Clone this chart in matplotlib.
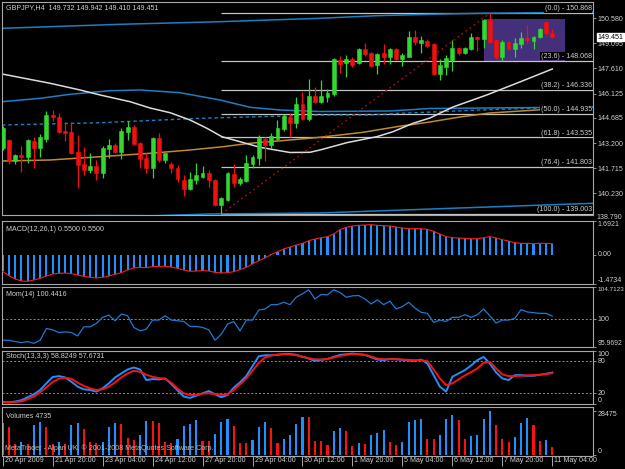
import matplotlib
matplotlib.use('Agg')
import matplotlib.pyplot as plt
import matplotlib.transforms as mtransforms
from matplotlib.patches import Rectangle

plt.rcParams['font.family'] = ['Liberation Sans', 'DejaVu Sans']

# ---------------- data ----------------
date_labels = ['20 Apr 2009', '21 Apr 20:00', '23 Apr 04:00', '24 Apr 12:00', '27 Apr 20:00',
               '29 Apr 04:00', '30 Apr 12:00', '1 May 20:00', '5 May 04:00', '6 May 12:00',
               '7 May 20:00', '11 May 04:00']
date_bars = [0, 8, 16, 24, 32, 40, 48, 56, 64, 72, 80, 88]

opens = [142.907, 143.380, 142.139, 142.493, 142.375, 143.321, 142.907, 143.439, 144.857, 144.739,
         143.912, 143.853, 142.671, 141.962, 141.607, 141.843, 141.430, 142.848, 143.084, 142.671,
         143.853, 144.148, 143.203, 142.316, 141.725, 143.498, 142.198, 141.962, 141.725, 141.016,
         140.484, 141.016, 141.193, 141.430, 141.016, 139.538, 139.834, 141.371, 140.839, 140.957,
         141.962, 142.316, 143.439, 143.084, 143.439, 144.030, 144.739, 144.385, 145.508, 144.621,
         145.980, 145.626, 145.921, 146.099, 148.108, 147.931, 148.167, 147.931, 148.758, 148.522,
         147.812, 148.522, 148.285, 148.758, 148.167, 148.285, 149.467, 149.113, 149.231, 149.054,
         147.281, 147.694, 148.108, 148.817, 148.522, 148.758, 149.467, 149.349, 150.472, 149.290,
         148.285, 149.172, 148.758, 149.054, 149.408, 149.231, 149.467, 150.354, 149.732]
highs = [144.207, 143.439, 142.553, 143.025, 143.439, 143.557, 143.735, 145.094, 145.153, 144.976,
         144.444, 144.444, 143.675, 142.966, 142.612, 142.198, 143.025, 143.439, 143.203, 144.089,
         144.503, 144.266, 143.262, 142.612, 143.557, 143.794, 142.612, 142.080, 141.902, 141.311,
         141.489, 142.021, 141.843, 141.607, 141.075, 140.011, 141.489, 141.962, 141.193, 142.493,
         142.493, 143.675, 143.557, 143.794, 144.562, 144.917, 144.976, 145.921, 146.217, 146.985,
         146.512, 146.926, 146.394, 148.226, 148.344, 148.403, 148.285, 148.817, 149.113, 148.581,
         148.522, 149.054, 148.817, 148.817, 148.522, 149.822, 149.881, 149.526, 149.349, 149.113,
         148.167, 148.403, 149.290, 148.876, 148.876, 149.704, 149.526, 150.531, 150.868, 149.349,
         149.290, 149.231, 149.408, 149.763, 150.177, 149.526, 150.000, 150.413, 149.942]
lows = [142.789, 141.962, 141.962, 141.489, 142.021, 141.725, 142.375, 143.262, 144.503, 143.794,
        143.321, 142.553, 140.543, 141.311, 141.430, 141.016, 141.134, 142.316, 142.612, 142.257,
        143.380, 143.084, 141.725, 141.430, 141.134, 142.080, 142.021, 141.430, 140.898, 140.070,
        140.425, 140.780, 141.134, 140.602, 139.479, 139.003, 139.775, 140.602, 140.720, 140.898,
        141.725, 141.902, 142.139, 142.907, 143.380, 143.912, 143.557, 144.089, 144.562, 144.503,
        145.567, 145.567, 145.626, 145.980, 147.340, 147.103, 147.694, 147.872, 148.344, 147.694,
        147.281, 147.872, 147.872, 148.108, 147.753, 148.285, 148.994, 148.522, 148.876, 147.221,
        146.926, 147.221, 147.458, 148.403, 148.463, 148.699, 148.640, 148.817, 149.113, 148.167,
        148.049, 148.699, 148.285, 148.817, 149.113, 148.758, 149.408, 149.586, 149.410]
closes = [144.089, 142.198, 142.493, 142.375, 143.380, 142.907, 143.557, 144.857, 144.739, 143.853,
          143.794, 142.612, 141.902, 141.607, 141.843, 141.430, 142.907, 143.084, 142.671, 143.912,
          144.148, 143.144, 142.257, 141.725, 143.498, 142.198, 142.612, 141.725, 141.075, 140.484,
          141.075, 141.311, 141.430, 141.016, 139.538, 139.952, 141.430, 140.839, 141.075, 142.021,
          142.375, 143.498, 143.084, 143.616, 144.089, 144.798, 144.385, 145.508, 144.621, 145.980,
          145.626, 145.980, 146.158, 148.167, 147.872, 148.167, 147.812, 148.758, 148.463, 147.753,
          148.463, 148.285, 148.758, 148.167, 148.403, 149.467, 149.172, 149.290, 148.935, 147.281,
          147.812, 148.226, 148.817, 148.522, 148.817, 149.467, 149.349, 150.472, 149.172, 148.285,
          149.172, 148.758, 149.113, 149.408, 149.290, 149.467, 149.940, 149.704, 149.451]

# overlay lines (bar position, price)
band_up_x = [-0.1, 18.8, 34.8, 50.8, 59.9, 68.4, 76.4, 94.5]
band_up_y = [149.981, 150.218, 150.372, 150.573, 150.726, 150.809, 150.868, 150.933]
band_mid_x = [-0.1, 6.0, 10.8, 17.2, 22.0, 28.4, 34.8, 39.6, 44.4, 50.8, 62.0, 68.4, 86.0, 94.5]
band_mid_y = [145.643, 145.844, 146.081, 146.294, 146.335, 146.176, 145.744, 145.313, 145.153,
              145.064, 145.094, 145.242, 145.301, 145.330]
band_dash_x = [-0.1, 15.6, 31.6, 50.8, 58.8, 63.6, 76.4, 86.0, 94.5]
band_dash_y = [144.266, 144.402, 144.662, 144.857, 144.857, 144.958, 145.153, 145.271, 145.301]
band_low_x = [-0.1, 7.3, 15.6, 24.4, 33.2, 50.8, 73.2, 94.5]
band_low_y = [138.830, 138.888, 138.918, 138.906, 139.007, 139.066, 139.361, 139.639]
ma_white_x = [-0.1, 7.6, 12.4, 15.6, 20.4, 23.6, 26.8, 30.0, 32.7, 35.1, 38.0, 41.2, 46.0, 49.2,
              50.8, 55.1, 59.9, 62.5, 65.7, 68.4, 72.1, 77.5, 82.8, 88.0]
ma_white_y = [147.281, 146.731, 146.335, 146.040, 145.643, 145.271, 144.993, 144.562, 144.072,
              143.575, 143.280, 142.949, 142.641, 142.653, 142.789, 143.221, 143.575, 143.871,
              144.367, 144.680, 145.330, 146.040, 146.808, 147.576]
ma_orange_x = [-0.1, 7.6, 15.6, 23.6, 30.0, 35.3, 39.6, 46.0, 50.8, 57.7, 63.1, 68.4, 73.2, 78.0, 88.0]
ma_orange_y = [142.139, 142.198, 142.393, 142.594, 142.789, 142.984, 143.185, 143.380, 143.540,
               143.835, 144.166, 144.444, 144.739, 144.976, 145.212]

fib_ratios = ['0.0', '23.6', '38.2', '50.0', '61.8', '76.4', '100.0']
fib_prices = [150.868, 148.068, 146.336, 144.935, 143.535, 141.803, 139.003]
fib_start_bar = 35
trend_bars = [35, 78]
trend_prices = [139.003, 150.868]
box_bars = [77, 90]
box_prices = [148.068, 150.531]

price_ticks = [150.580, 149.095, 147.610, 146.125, 144.685, 143.200, 141.715, 140.230]
price_bottom_label = 138.790
last_price = 149.451

macd = [-0.838, -1.055, -1.223, -1.323, -1.340, -1.273, -1.189, -1.072, -0.972, -0.938,
        -0.921, -0.955, -1.022, -1.089, -1.139, -1.173, -1.139, -1.072, -0.988, -0.905,
        -0.771, -0.670, -0.637, -0.653, -0.603, -0.586, -0.586, -0.620, -0.687, -0.771,
        -0.838, -0.821, -0.804, -0.821, -0.888, -0.921, -0.905, -0.854, -0.754, -0.637,
        -0.469, -0.302, -0.168, 0.010, 0.151, 0.285, 0.385, 0.486, 0.570, 0.704,
        0.787, 0.854, 0.905, 1.039, 1.256, 1.374, 1.441, 1.474, 1.491, 1.508,
        1.474, 1.457, 1.441, 1.390, 1.340, 1.307, 1.307, 1.307, 1.273, 1.173,
        1.039, 0.905, 0.854, 0.838, 0.821, 0.804, 0.804, 0.854, 0.905, 0.838,
        0.754, 0.687, 0.603, 0.570, 0.570, 0.553, 0.570, 0.570, 0.550]
mom = [96.89, 96.89, 96.69, 96.54, 96.69, 96.44, 96.89, 98.62, 98.42, 98.02,
       98.12, 98.02, 97.53, 98.86, 98.86, 99.36, 100.25, 100.59, 99.75, 100.74,
       100.49, 98.77, 98.27, 98.52, 99.85, 99.85, 100.49, 99.85, 99.75, 99.65,
       98.91, 98.91, 98.77, 98.42, 96.89, 97.78, 99.26, 99.65, 98.27, 99.85,
       99.85, 101.33, 101.48, 102.12, 102.12, 102.47, 102.12, 103.21, 103.71, 104.30,
       102.96, 103.61, 103.56, 104.30, 103.90, 103.21, 103.41, 103.46, 102.96, 102.22,
       102.82, 102.12, 102.62, 101.48, 101.83, 102.47, 101.63, 100.99, 100.84, 99.51,
       99.85, 99.65, 100.25, 100.25, 100.64, 100.25, 100.64, 101.48, 100.49, 99.41,
       99.85, 99.85, 100.10, 101.38, 101.04, 100.94, 100.84, 100.84, 100.4416]
stoch_main = [3.3, 3.3, 4.6, 7.0, 12.6, 18.2, 26.2, 38.6, 50.3, 52.2,
              49.7, 41.7, 32.4, 27.4, 26.2, 23.1, 29.3, 38.6, 49.7, 57.1,
              64.5, 68.2, 64.5, 44.7, 46.6, 46.0, 47.8, 37.3, 25.6, 13.8,
              11.4, 15.7, 20.0, 24.3, 18.2, 12.6, 16.9, 30.5, 40.4, 52.2,
              70.7, 89.3, 91.1, 91.1, 91.8, 93.6, 93.6, 91.8, 88.0, 84.9,
              80.6, 82.5, 84.3, 88.0, 91.8, 93.0, 94.2, 93.0, 91.8, 87.4,
              83.1, 81.9, 84.3, 83.7, 82.5, 81.2, 80.6, 83.1, 75.7, 54.0,
              32.4, 23.1, 50.9, 57.1, 63.3, 72.0, 81.9, 88.0, 75.7, 59.0,
              47.8, 44.7, 54.0, 54.0, 52.8, 52.8, 54.6, 56.5, 58.8249]
stoch_signal = [3.3, 3.3, 3.9, 4.6, 8.9, 13.8, 21.9, 31.1, 41.0, 47.2,
                49.1, 47.2, 39.8, 33.6, 29.3, 26.2, 27.4, 32.4, 40.4, 49.7,
                57.1, 62.1, 60.2, 54.6, 50.9, 48.5, 47.2, 39.8, 28.7, 20.0,
                16.9, 16.9, 19.4, 20.0, 18.8, 16.9, 18.2, 26.2, 36.7, 47.8,
                62.1, 76.9, 86.8, 90.5, 92.4, 93.0, 92.4, 91.1, 88.7, 85.6,
                83.7, 83.1, 84.3, 86.8, 89.9, 91.8, 93.0, 93.0, 91.8, 88.7,
                84.9, 83.7, 83.7, 83.7, 83.1, 82.5, 81.9, 81.9, 80.0, 64.5,
                47.8, 35.5, 38.6, 46.0, 53.4, 59.6, 66.4, 76.9, 78.8, 66.4,
                55.3, 52.2, 52.2, 52.8, 53.4, 54.0, 54.6, 55.9, 57.6731]
volumes = [20285, 17696, 6906, 7985, 6690, 19206, 21148, 18127, 6906, 8200,
           6906, 18990, 20285, 16401, 7985, 7769, 8200, 17696, 20717, 19638,
           10574, 9495, 12732, 22012, 21796, 20285, 8416, 7337, 9927, 18775,
           19638, 22227, 9064, 8632, 13380, 21364, 22875, 18559, 7337, 7337,
           9495, 17696, 21364, 17480, 7337, 10143, 12732, 19638, 24385, 24170,
           8848, 8848, 6258, 15538, 17480, 15322, 5611, 7337, 6906, 12732,
           13811, 15969, 8416, 6042, 8416, 21364, 22443, 22875, 10143, 10143,
           12732, 23091, 25464, 22443, 10143, 12301, 12732, 22875, 28475, 19206,
           9927, 8416, 11222, 20285, 23954, 19206, 8848, 9279, 4735]

# ---------------- style ----------------
BG = 'black'
FG = '#cfcfcf'
FRAME = '#a8a8a8'
FS = 5.1
BULL = '#32d732'
BEAR = '#f01010'
BLUE = '#1e90ff'
BAND = '#1a80c4'
XMIN, XMAX = -0.11, 94.52
n = len(closes)
xs = list(range(n))

fig = plt.figure(figsize=(6.25, 4.69), dpi=100, facecolor=BG)


def make_ax(top_px, bot_px):
    ax = fig.add_axes([2 / 625, 1 - bot_px / 469, 591 / 625, (bot_px - top_px) / 469], facecolor=BG)
    ax.set_xlim(XMIN, XMAX)
    for s in ax.spines.values():
        s.set_color(FRAME)
        s.set_linewidth(0.8)
    ax.yaxis.tick_right()
    ax.tick_params(axis='y', colors=FRAME, labelcolor=FG, labelsize=FS, length=2, width=0.6, pad=1.5)
    ax.tick_params(axis='x', bottom=False, labelbottom=False)
    return ax


ax_p = make_ax(2, 215)
ax_m = make_ax(221, 284)
ax_mo = make_ax(287, 346.5)
ax_s = make_ax(350.5, 404)
ax_v = make_ax(407, 456)

# ---------------- price panel ----------------
ax_p.set_ylim(138.947, 151.536)
ax_p.add_patch(Rectangle((box_bars[0], box_prices[0]), box_bars[1] - box_bars[0],
                         box_prices[1] - box_prices[0], facecolor='#44307a', edgecolor='none', zorder=1))
ax_p.hlines(fib_prices, fib_start_bar, XMAX, colors='#c4c4c4', linewidth=0.9, zorder=2)
ax_p.plot(band_up_x, band_up_y, color=BAND, lw=1.1, zorder=2)
ax_p.plot(band_mid_x, band_mid_y, color=BAND, lw=1.1, zorder=2)
ax_p.plot(band_dash_x, band_dash_y, color=BAND, lw=1.0, ls=(0, (2.5, 2)), zorder=2)
ax_p.plot(band_low_x, band_low_y, color=BAND, lw=1.1, zorder=2)
ax_p.plot(ma_orange_x, ma_orange_y, color='#c08a2a', lw=1.1, zorder=2)
ax_p.plot(ma_white_x, ma_white_y, color='#dcdcdc', lw=1.1, zorder=2)
ax_p.plot(trend_bars, trend_prices, color='#b01515', lw=0.9, ls=(0, (1.5, 2.5)), zorder=2)

for i in xs:
    o, h, l, c = opens[i], highs[i], lows[i], closes[i]
    col = BULL if c >= o else BEAR
    ax_p.vlines(i, l, h, color=col, lw=0.9, zorder=3)
    ax_p.bar(i, abs(c - o), bottom=min(o, c), width=0.62, color=col,
             edgecolor=col, linewidth=0.4, zorder=4)

for r, p in zip(fib_ratios, fib_prices):
    ax_p.text(0.998, p + 0.05, f'({r}) - {p:.3f}', transform=ax_p.get_yaxis_transform(),
              ha='right', va='bottom', color=FG, fontsize=FS, zorder=6,
              bbox=dict(facecolor=BG, edgecolor='none', pad=0.4))

ax_p.set_yticks(price_ticks)
ax_p.set_yticklabels([f'{v:.3f}' for v in price_ticks])
ax_p.text(1.0055, price_bottom_label, f'{price_bottom_label:.3f}', transform=ax_p.get_yaxis_transform(),
          ha='left', va='center', color=FG, fontsize=FS, clip_on=False)
ax_p.text(1.0075, last_price, f'{last_price:.3f}', transform=ax_p.get_yaxis_transform(),
          ha='left', va='center', color='black', fontsize=FS, clip_on=False, zorder=10,
          bbox=dict(facecolor='white', edgecolor='white', pad=0.5))
ax_p.text(0.007, 0.972, 'GBPJPY,H4  %.3f %.3f %.3f %.3f' % (opens[-1], highs[-1], lows[-1], closes[-1]),
          transform=ax_p.transAxes, ha='left', va='center', color=FG, fontsize=FS)

# ---------------- MACD ----------------
ax_m.set_ylim(-1.4734, 1.6921)
ax_m.bar(xs, macd, width=0.34, color=BLUE, zorder=2)
ax_m.plot(xs, macd, color='#ff1a1a', lw=0.8, zorder=3)
ax_m.set_yticks([1.6921, 0.0, -1.4734])
ax_m.set_yticklabels(['1.6921', '0.00', '-1.4734'])
ax_m.text(0.007, 0.865, 'MACD(12,26,1) %.4f %.4f' % (macd[-1], macd[-1]), transform=ax_m.transAxes,
          ha='left', va='center', color=FG, fontsize=FS)

# ---------------- Momentum ----------------
ax_mo.set_ylim(95.9692, 104.7123)
ax_mo.axhline(100, color='#8a8a8a', lw=0.7, ls=(0, (2, 2)))
ax_mo.plot(xs, mom, color='#1c7ad0', lw=0.9)
ax_mo.set_yticks([104.7123, 100, 95.9692])
ax_mo.set_yticklabels(['104.7123', '100', '95.9692'])
ax_mo.text(0.007, 0.866, 'Mom(14) %.4f' % mom[-1], transform=ax_mo.transAxes,
           ha='left', va='center', color=FG, fontsize=FS)

# ---------------- Stochastic ----------------
ax_s.set_ylim(0, 100)
ax_s.axhline(80, color='#8a8a8a', lw=0.7, ls=(0, (2, 2)))
ax_s.axhline(20, color='#8a8a8a', lw=0.7, ls=(0, (2, 2)))
ax_s.plot(xs, stoch_main, color=BLUE, lw=1.4)
ax_s.plot(xs, stoch_signal, color='#ff1010', lw=1.4)
ax_s.set_yticks([100, 80, 20, 0])
ax_s.set_yticklabels(['100', '80', '20', '0'])
ax_s.text(0.007, 0.88, 'Stoch(13,3,3) %.4f %.4f' % (stoch_main[-1], stoch_signal[-1]),
          transform=ax_s.transAxes, ha='left', va='center', color=FG, fontsize=FS)

# ---------------- Volumes ----------------
ax_v.set_ylim(-900, 30800)
vcols = [BLUE] + [BLUE if volumes[i] > volumes[i - 1] else '#ff1010' for i in range(1, n)]
ax_v.bar(xs, volumes, width=0.34, color=vcols, zorder=2)
ax_v.set_yticks([28475, 0])
ax_v.set_yticklabels(['28475', '0'])
ax_v.text(0.007, 0.816, 'Volumes %d' % volumes[-1], transform=ax_v.transAxes,
          ha='left', va='center', color=FG, fontsize=FS)
ax_v.text(0.005, 0.15, 'MetaTrader - Alpari UK, \u00a9 2001-2008 MetaQuotes Software Corp.',
          transform=ax_v.transAxes, ha='left', va='center', color='#bdbdbd', fontsize=FS, zorder=5)

ax_v.set_xticks(date_bars)
ax_v.set_xticklabels(date_labels)
ax_v.tick_params(axis='x', bottom=True, labelbottom=True, colors=FRAME, labelcolor=FG,
                 labelsize=FS, length=7, width=0.7, direction='out', pad=-6.5)
offset = mtransforms.ScaledTranslation(2 / 100, 0, fig.dpi_scale_trans)
for lab in ax_v.get_xticklabels():
    lab.set_ha('left')
    lab.set_transform(lab.get_transform() + offset)

# vertical alignment of edge labels like MetaTrader
for ax, vas in [(ax_m, ['top', 'center', 'bottom']), (ax_mo, ['top', 'center', 'bottom']),
                (ax_s, ['top', 'center', 'center', 'bottom']), (ax_v, ['top', 'bottom'])]:
    for lab, va in zip(ax.get_yticklabels(), vas):
        lab.set_va(va)
# the widest momentum label is a little smaller so it fits inside the figure
ax_mo.get_yticklabels()[0].set_fontsize(4.6)
ax_mo.get_yticklabels()[2].set_fontsize(4.9)

fig.savefig('out.png', dpi=100, facecolor=BG)
